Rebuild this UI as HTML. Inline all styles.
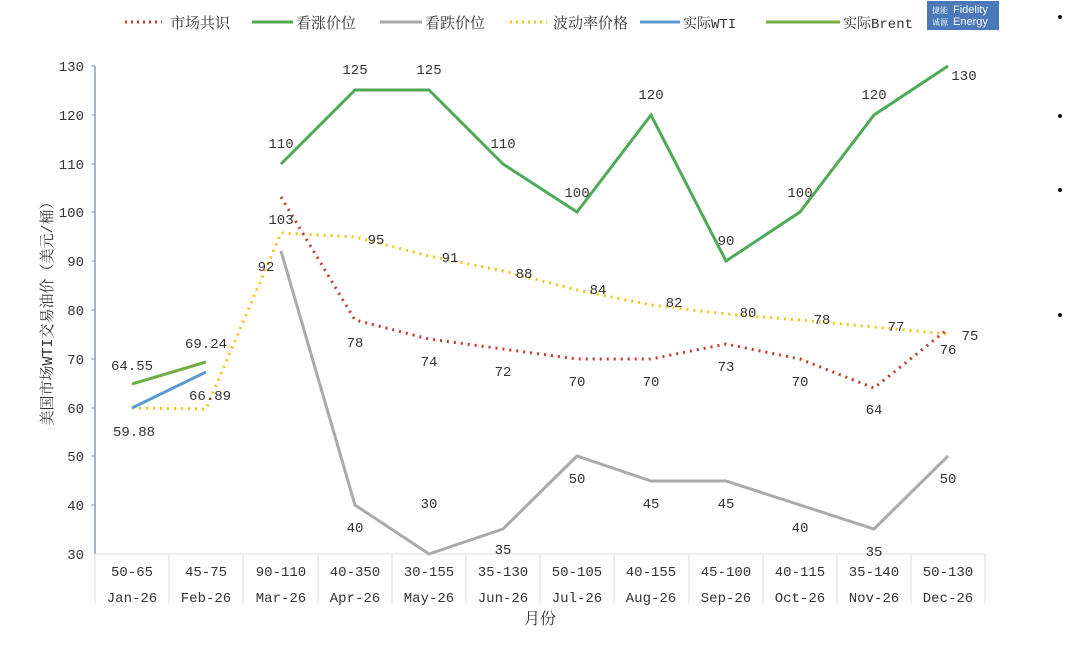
<!DOCTYPE html>
<html><head><meta charset="utf-8"><style>
body{margin:0;background:#fff;}
svg text{font-family:"Liberation Mono","Noto Serif CJK SC",monospace;fill:#333;}
svg text.cjk{font-family:"Noto Serif CJK SC",serif;}
</style></head><body>
<svg width="1080" height="644" xmlns="http://www.w3.org/2000/svg">
<!-- legend -->
<line x1="125" y1="22" x2="162" y2="22" stroke="#c0392b" stroke-width="3" stroke-dasharray="2,4"/>
<text x="170" y="28" font-size="15" class="cjk">市场共识</text>
<line x1="252" y1="22" x2="293" y2="22" stroke="#4daa57" stroke-width="3"/>
<text x="296" y="28" font-size="15" class="cjk">看涨价位</text>
<line x1="380" y1="22" x2="422" y2="22" stroke="#aaa" stroke-width="3"/>
<text x="425" y="28" font-size="15" class="cjk">看跌价位</text>
<line x1="510" y1="22" x2="547" y2="22" stroke="#f0c419" stroke-width="3" stroke-dasharray="2,4"/>
<text x="553" y="28" font-size="15" class="cjk">波动率价格</text>
<line x1="640" y1="22" x2="680" y2="22" stroke="#5b9bd5" stroke-width="3"/>
<text x="683" y="28" font-size="14">实际WTI</text>
<line x1="766" y1="22" x2="840" y2="22" stroke="#70ad47" stroke-width="3"/>
<text x="843" y="28" font-size="14">实际Brent</text>
<rect x="927" y="1" width="72" height="29" fill="#4a78b8"/>
<text x="932" y="13" font-size="8" class="cjk" style="fill:#fff">捷能</text>
<text x="932" y="25" font-size="8" class="cjk" style="fill:#fff">诚源</text>
<text x="953" y="13" font-size="11" style="fill:#fff;font-family:'Liberation Sans',sans-serif">Fidelity</text>
<text x="953" y="25" font-size="11" style="fill:#fff;font-family:'Liberation Sans',sans-serif">Energy</text>
<circle cx="1060" cy="17" r="2" fill="#111"/><circle cx="1060" cy="116" r="2" fill="#111"/>
<circle cx="1060" cy="190" r="2" fill="#111"/><circle cx="1060" cy="315" r="2" fill="#111"/>
<!-- axes -->
<line x1="95" y1="66" x2="95" y2="554" stroke="#8a9bb0" stroke-width="1.5"/>
<g stroke="#8a9bb0"><line x1="91" y1="66" x2="95" y2="66"/><line x1="91" y1="115" x2="95" y2="115"/><line x1="91" y1="164" x2="95" y2="164"/><line x1="91" y1="212" x2="95" y2="212"/><line x1="91" y1="261" x2="95" y2="261"/><line x1="91" y1="310" x2="95" y2="310"/><line x1="91" y1="359" x2="95" y2="359"/><line x1="91" y1="408" x2="95" y2="408"/><line x1="91" y1="456" x2="95" y2="456"/><line x1="91" y1="505" x2="95" y2="505"/></g>
<g font-size="14" text-anchor="end">
<text x="84" y="71">130</text><text x="84" y="120">120</text><text x="84" y="169">110</text><text x="84" y="217">100</text><text x="84" y="266">90</text><text x="84" y="315">80</text><text x="84" y="364">70</text><text x="84" y="413">60</text><text x="84" y="461">50</text><text x="84" y="510">40</text><text x="84" y="559">30</text>
</g>
<line x1="95" y1="554" x2="985" y2="554" stroke="#ddd"/>
<g stroke="#ddd">
<line x1="95" y1="554" x2="95" y2="604"/><line x1="169" y1="554" x2="169" y2="604"/><line x1="243" y1="554" x2="243" y2="604"/><line x1="318" y1="554" x2="318" y2="604"/><line x1="392" y1="554" x2="392" y2="604"/><line x1="466" y1="554" x2="466" y2="604"/><line x1="540" y1="554" x2="540" y2="604"/><line x1="614" y1="554" x2="614" y2="604"/><line x1="689" y1="554" x2="689" y2="604"/><line x1="763" y1="554" x2="763" y2="604"/><line x1="837" y1="554" x2="837" y2="604"/><line x1="911" y1="554" x2="911" y2="604"/><line x1="985" y1="554" x2="985" y2="604"/>
</g>
<g font-size="14" text-anchor="middle">
<text x="132" y="576">50-65</text><text x="206" y="576">45-75</text><text x="281" y="576">90-110</text><text x="355" y="576">40-350</text><text x="429" y="576">30-155</text><text x="503" y="576">35-130</text><text x="577" y="576">50-105</text><text x="651" y="576">40-155</text><text x="726" y="576">45-100</text><text x="800" y="576">40-115</text><text x="874" y="576">35-140</text><text x="948" y="576">50-130</text>
<text x="132" y="602">Jan-26</text><text x="206" y="602">Feb-26</text><text x="281" y="602">Mar-26</text><text x="355" y="602">Apr-26</text><text x="429" y="602">May-26</text><text x="503" y="602">Jun-26</text><text x="577" y="602">Jul-26</text><text x="651" y="602">Aug-26</text><text x="726" y="602">Sep-26</text><text x="800" y="602">Oct-26</text><text x="874" y="602">Nov-26</text><text x="948" y="602">Dec-26</text>
<text x="540" y="624" font-size="16" class="cjk">月份</text>
</g>
<text transform="translate(52,310) rotate(-90)" font-size="15" text-anchor="middle">美国市场WTI交易油价（美元/桶）</text>
<!-- series -->
<polyline fill="none" stroke="#4daa57" stroke-width="3" points="281,164 355,90 429,90 503,164 577,212 651,115 726,261 800,212 874,115 948,66"/>
<polyline fill="none" stroke="#aaa" stroke-width="3" points="281,251 355,505 429,554 503,529 577,456 651,481 726,481 800,505 874,529 948,456"/>
<polyline fill="none" stroke="#f0c419" stroke-width="3" stroke-dasharray="2,5" points="132,408 206,409 281,233 355,237 429,256 503,271 577,290 651,305 726,314 800,320 874,327 948,334"/>
<polyline fill="none" stroke="#c0392b" stroke-width="3" stroke-dasharray="2,5" points="281,197 355,320 429,339 503,349 577,359 651,359 726,344 800,359 874,388 948,329"/>
<polyline fill="none" stroke="#5b9bd5" stroke-width="3" points="132,408 206,372"/>
<polyline fill="none" stroke="#70ad47" stroke-width="3" points="132,384 206,362"/>
<g font-size="14" text-anchor="middle">
<text x="281" y="148">110</text><text x="355" y="74">125</text><text x="429" y="74">125</text><text x="503" y="148">110</text><text x="577" y="197">100</text><text x="651" y="99">120</text><text x="726" y="245">90</text><text x="800" y="197">100</text><text x="874" y="99">120</text><text x="964" y="80">130</text>
<text x="266" y="271">92</text><text x="355" y="532">40</text><text x="429" y="508">30</text><text x="503" y="554">35</text><text x="577" y="483">50</text><text x="651" y="508">45</text><text x="726" y="508">45</text><text x="800" y="532">40</text><text x="874" y="556">35</text><text x="948" y="483">50</text>
<text x="281" y="224">103</text><text x="355" y="347">78</text><text x="429" y="366">74</text><text x="503" y="376">72</text><text x="577" y="386">70</text><text x="651" y="386">70</text><text x="726" y="371">73</text><text x="800" y="386">70</text><text x="874" y="414">64</text><text x="948" y="354">76</text>
<text x="376" y="244">95</text><text x="450" y="262">91</text><text x="524" y="278">88</text><text x="598" y="294">84</text><text x="674" y="307">82</text><text x="748" y="317">80</text><text x="822" y="324">78</text><text x="896" y="331">77</text><text x="970" y="340">75</text>
<text x="132" y="370">64.55</text><text x="206" y="348">69.24</text><text x="134" y="436">59.88</text><text x="210" y="400">66.89</text>
</g>
</svg>
</body></html>
